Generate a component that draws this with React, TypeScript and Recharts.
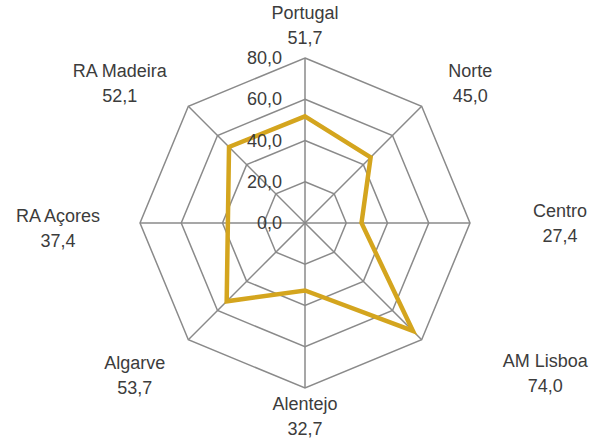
import React from 'react';
import { RadarChart, Radar, PolarGrid, PolarAngleAxis, PolarRadiusAxis } from 'recharts';

const regions = ['Portugal', 'Norte', 'Centro', 'AM Lisboa', 'Alentejo', 'Algarve', 'RA Açores', 'RA Madeira'];
const values = [51.7, 45.0, 27.4, 74.0, 32.7, 53.7, 37.4, 52.1];
const radiusTicks = [0, 20, 40, 60, 80];

const data = regions.map((name, i) => ({ name, value: values[i] }));

const CX = 305;
const CY = 223;
const R = 165;
const TEXT = '#3c3c3c';
const FONT = 'Liberation Sans, Arial, sans-serif';

const fmt = (v: number) => v.toFixed(1).replace('.', ',');

// label placement isn't uniform in the original, small per-label tweaks
const nudge: Record<string, [number, number]> = {
  'Norte': [-15, 0],
  'AM Lisboa': [60, 10],
  'Alentejo': [0, -5],
  'Algarve': [10, 12],
  'RA Açores': [8, 5],
  'RA Madeira': [-5, 0],
};

const AngleTick = (props: any) => {
  const { payload, index } = props;
  const ang = ((90 - index * 45) * Math.PI) / 180;
  const dx = Math.cos(ang);
  const dy = -Math.sin(ang);
  const n = nudge[payload.value] || [0, 0];
  const x = CX + dx * (R + 90) + n[0];
  const y = CY + dy * (R + 33) + n[1];
  return (
    <text x={x} y={y} textAnchor="middle" fontSize={18} fontFamily={FONT} fill={TEXT}>
      <tspan x={x} dy={-6}>{payload.value}</tspan>
      <tspan x={x} dy={25}>{fmt(values[index])}</tspan>
    </text>
  );
};

const RadiusTick = (props: any) => {
  const { x, y, payload } = props;
  return (
    <text x={x - 23} y={y} textAnchor="end" dominantBaseline="central" fontSize={18} fontFamily={FONT} fill={TEXT}>
      {fmt(payload.value)}
    </text>
  );
};

export default function App() {
  return (
    <div style={{ position: 'fixed', left: 0, top: 0, width: 606, height: 443, background: '#fff' }}>
      <RadarChart width={606} height={443} data={data} cx={CX} cy={CY} outerRadius={R} margin={{ top: 0, right: 0, bottom: 0, left: 0 }}>
        <PolarGrid gridType="polygon" stroke="#8a8a8a" strokeWidth={1.5} />
        <PolarAngleAxis dataKey="name" tick={<AngleTick />} tickLine={false} axisLine={false} />
        <PolarRadiusAxis
          angle={90}
          domain={[0, 80]}
          ticks={radiusTicks}
          tick={<RadiusTick />}
          axisLine={false}
          tickLine={false}
        />
        <Radar
          dataKey="value"
          stroke="#D4A51E"
          strokeWidth={4.5}
          fill="none"
          fillOpacity={0}
          dot={false}
          isAnimationActive={false}
        />
      </RadarChart>
    </div>
  );
}
